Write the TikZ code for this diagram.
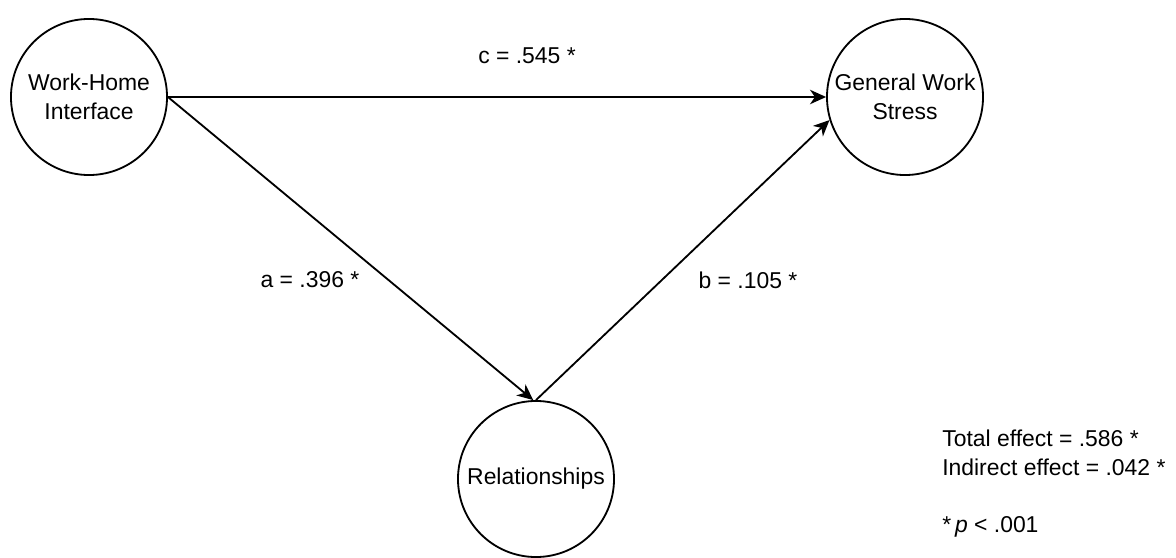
\documentclass[tikz,border=0pt]{standalone}
\usepackage{fontspec}
\setmainfont{Liberation Sans}
\usetikzlibrary{arrows.meta}
\newcommand{\diagfont}{\fontsize{16.3}{20.2}\selectfont}
\tikzset{
  latent/.style={draw, circle, line width=1.3pt, minimum size=3.9cm, inner sep=0pt, align=center, font=\diagfont},
  effect/.style={-{Stealth[length=4mm, width=3.6mm, inset=1.2mm]}, line width=1.3pt},
  coef/.style={font=\diagfont},
}
\begin{document}
\begin{tikzpicture}[x=0.025cm, y=-0.025cm]
    \useasboundingbox (0,0) rectangle (1176,558);
    % Variables latentes
    \node[latent] (whi) at (89,97) {Work-Home\\Interface};
    \node[latent] (gws) at (905,97) {General Work\\Stress};
    \node[latent] (rel) at (536,479) {Relationships};

    % Efectos directos e indirectos
    \draw[effect] (whi.east) -- (gws.west);
    \draw[effect] (whi.east) -- ([xshift=-2pt]rel.north);
    \draw[effect] (rel.north) -- (gws.197);

    % Coeficientes
    \node[coef] (lblc) at (527,56) {c = .545 *};
    \node[coef] (lbla) at (310,280) {a = .396 *};
    \node[coef] (lblb) at (748,280) {b = .105 *};

    % Resumen
    \node[coef, anchor=base west, inner sep=0pt] (total) at (942,446) {Total effect = .586 *};
    \node[coef, anchor=base west, inner sep=0pt] (indirect) at (942,475) {Indirect effect = .042 *};
    \node[coef, anchor=base west, inner sep=0pt] (sig) at (942,532) {*\,\textit{p} < .001};
\end{tikzpicture}
\end{document}
